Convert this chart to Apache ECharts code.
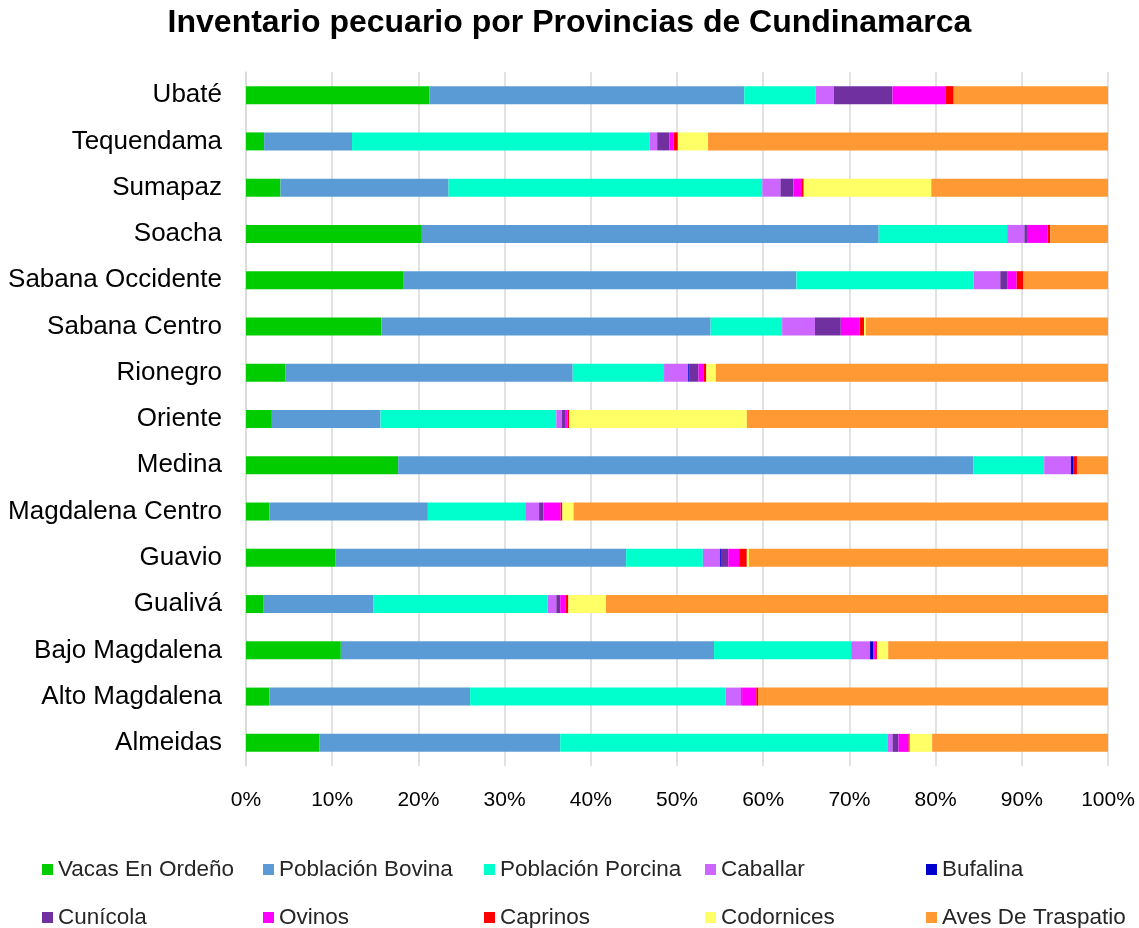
<!DOCTYPE html>
<html>
<head>
<meta charset="utf-8">
<script src="https://cdn.jsdelivr.net/npm/echarts@6/dist/echarts.min.js"></script>
<style>
  html, body { margin: 0; padding: 0; background: #fff; }
  #chart { width: 1139px; height: 928px; }
</style>
</head>
<body>
<div id="chart"></div>
<script>
(function() {
  // provinces, top to bottom
  var provincias = ['Ubaté', 'Tequendama', 'Sumapaz', 'Soacha', 'Sabana Occidente', 'Sabana Centro',
    'Rionegro', 'Oriente', 'Medina', 'Magdalena Centro', 'Guavio', 'Gualivá', 'Bajo Magdalena',
    'Alto Magdalena', 'Almeidas'];

  var seriesNames = ['Vacas En Ordeño', 'Población Bovina', 'Población Porcina', 'Caballar', 'Bufalina',
    'Cunícola', 'Ovinos', 'Caprinos', 'Codornices', 'Aves De Traspatio'];

  var colors = ['#00cc00', '#5b9bd5', '#00ffcc', '#cc66ff', '#0000cc',
    '#7030a0', '#ff00ff', '#ff0000', '#ffff66', '#ff9933'];

  // shares in %, same order as provincias
  var vacas      = [21.3, 2.1, 4.0, 20.4, 18.3, 15.7, 4.6, 3.0, 17.65, 2.7, 10.4, 2.05, 11.0, 2.7, 8.5];
  var bovina     = [36.5, 10.2, 19.5, 53.0, 45.55, 38.2, 33.3, 12.6, 66.75, 18.4, 33.7, 12.7, 43.3, 23.3, 27.95];
  var porcina    = [8.3, 34.5, 36.4, 14.9, 20.55, 8.3, 10.6, 20.4, 8.2, 11.3, 8.9, 20.25, 15.9, 29.65, 37.95];
  var caballar   = [2.1, 0.9, 2.1, 2.0, 3.1, 3.8, 2.8, 0.65, 3.1, 1.6, 2.0, 1.0, 2.2, 1.8, 0.6];
  var bufalina   = [0, 0, 0, 0, 0, 0, 0.1, 0, 0.25, 0, 0.1, 0, 0.35, 0, 0];
  var cunicola   = [6.8, 1.4, 1.5, 0.3, 0.8, 3.0, 1.1, 0.45, 0, 0.5, 0.85, 0.45, 0, 0.1, 0.7];
  var ovinos     = [6.2, 0.5, 0.9, 2.4, 1.1, 2.2, 0.55, 0.2, 0, 2.0, 1.25, 0.65, 0.35, 1.65, 1.15];
  var caprinos   = [0.9, 0.5, 0.3, 0.3, 0.8, 0.5, 0.35, 0.2, 0.45, 0.2, 0.9, 0.3, 0.1, 0.2, 0.15];
  var codornices = [0, 3.5, 14.8, 0, 0, 0.2, 1.1, 20.6, 0, 1.3, 0.25, 4.35, 1.3, 0, 2.6];
  var aves       = [17.9, 46.4, 20.5, 6.7, 9.8, 28.1, 45.5, 41.9, 3.6, 62.0, 41.65, 58.25, 25.5, 40.6, 20.4];

  var values = [vacas, bovina, porcina, caballar, bufalina, cunicola, ovinos, caprinos, codornices, aves];

  var xTicks = [0, 10, 20, 30, 40, 50, 60, 70, 80, 90, 100];

  var series = seriesNames.map(function(name, i) {
    return {
      name: name,
      type: 'bar',
      stack: 'total',
      barWidth: 18,
      itemStyle: { color: colors[i] },
      data: values[i]
    };
  });

  // legend laid out as a 5 x 2 grid
  var legends = seriesNames.map(function(name, i) {
    return {
      data: [name],
      left: 37 + (i % 5) * 221,
      top: 853 + Math.floor(i / 5) * 48,
      itemWidth: 11,
      itemHeight: 11,
      itemGap: 4,
      icon: 'rect',
      textStyle: { color: '#262626', fontSize: 22.5, fontFamily: 'Liberation Sans Narrow, Arial Narrow, sans-serif' }
    };
  });

  var chart = echarts.init(document.getElementById('chart'), null, { renderer: 'canvas' });
  chart.setOption({
    animation: false,
    color: colors,
    title: {
      text: 'Inventario pecuario por Provincias de Cundinamarca',
      left: 'center',
      top: 2,
      textStyle: { color: '#000', fontSize: 32, fontWeight: 'bold', fontFamily: 'Liberation Sans, Arial, sans-serif' }
    },
    legend: legends,
    grid: { left: 246, right: 31, top: 72, bottom: 162, containLabel: false },
    xAxis: {
      type: 'value',
      min: xTicks[0],
      max: xTicks[xTicks.length - 1],
      interval: 10,
      axisLine: { show: false },
      axisTick: { show: false },
      splitLine: { show: true, lineStyle: { color: '#d9d9d9', width: 1.5 } },
      axisLabel: {
        color: '#000',
        fontSize: 21,
        margin: 24,
        fontFamily: 'Liberation Sans Narrow, Arial Narrow, sans-serif',
        formatter: '{value}%'
      }
    },
    yAxis: {
      type: 'category',
      inverse: true,
      data: provincias,
      axisLine: { show: true, lineStyle: { color: '#d9d9d9', width: 1.5 } },
      axisTick: { show: false },
      axisLabel: {
        color: '#000',
        fontSize: 26,
        margin: 24,
        fontFamily: 'Liberation Sans, Arial, sans-serif'
      }
    },
    series: series
  });
})();
</script>
</body>
</html>
